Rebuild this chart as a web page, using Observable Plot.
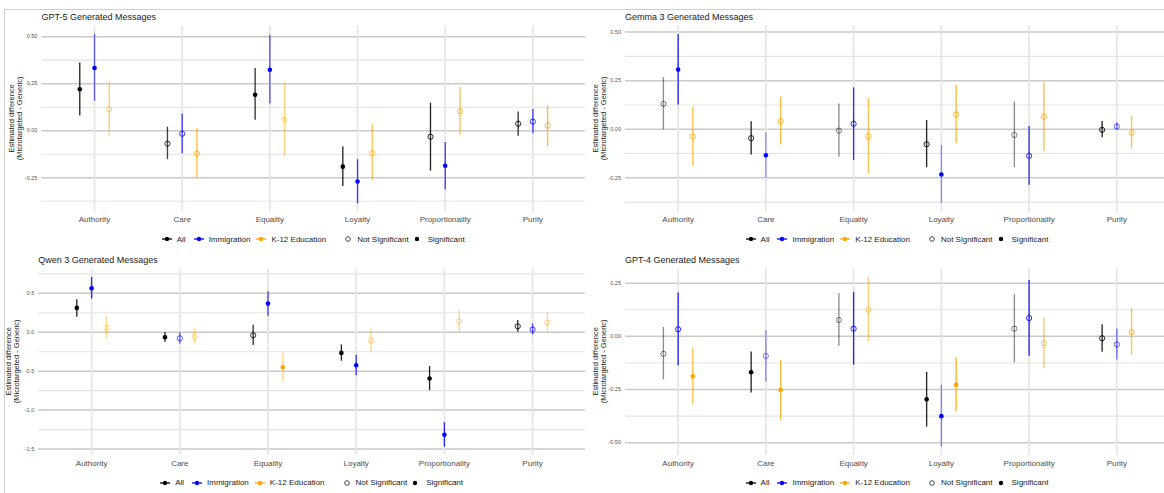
<!DOCTYPE html>
<html><head><meta charset="utf-8">
<script src="https://cdn.jsdelivr.net/npm/d3@7"></script>
<script src="https://cdn.jsdelivr.net/npm/@observablehq/plot@0.6"></script>
<style>
body{margin:0;width:1164px;height:493px;overflow:hidden;background:#fff;font-family:"Liberation Sans",Arial,sans-serif;position:relative}
#frame{position:absolute;left:4px;top:9px;width:1200px;height:520px;border-left:1px solid #cfcfcf;border-top:1px solid #cfcfcf}
.psvg{position:absolute}
.title{position:absolute;font-size:9px;color:#1a1a1a;white-space:nowrap;line-height:12px}
.ytitle{position:absolute;font-size:7.5px;line-height:8.3px;text-align:center;transform:rotate(-90deg);color:#1a1a1a;white-space:nowrap}
.legend{position:absolute;display:flex;align-items:center;justify-content:center;font-size:8px;color:#1a1a1a;height:12px;white-space:nowrap}
.legend svg{display:block}
</style></head>
<body>
<div id="frame"></div>
<script>
const categories = ["Authority","Care","Equality","Loyalty","Proportionality","Purity"];
const groups = ["All","Immigration","K-12 Education"];
const groupColors = ["#000000","#0000ff","#ffa500"];
const sigLabels = ["Not Significant","Significant"];
const yAxisTitle = ["Estimated difference","(Microtargeted - Generic)"];

// order: for each category -> All, Immigration, K-12 Education
const gpt5Est = [0.220,0.333,0.113, -0.069,-0.016,-0.122, 0.191,0.324,0.058, -0.191,-0.270,-0.119, -0.032,-0.186,0.103, 0.037,0.048,0.027];
const gpt5Lo  = [0.078,0.156,-0.030, -0.154,-0.122,-0.255, 0.055,0.142,-0.137, -0.296,-0.388,-0.266, -0.215,-0.314,-0.023, -0.029,-0.016,-0.084];
const gpt5Hi  = [0.360,0.512,0.260, 0.019,0.087,0.011, 0.330,0.507,0.253, -0.087,-0.154,0.032, 0.147,-0.062,0.229, 0.099,0.113,0.133];
const gpt5Sig = [1,1,0, 0,0,0, 1,1,0, 1,1,0, 0,1,0, 0,0,0];
const gpt5Alpha = [0.85,0.6,0.55, 0.75,0.75,0.75, 0.8,0.65,0.5, 0.85,0.75,0.65, 0.85,0.75,0.7, 0.8,0.75,0.75];

const gemmaEst = [0.130,0.307,-0.037, -0.046,-0.134,0.041, -0.007,0.028,-0.037, -0.077,-0.233,0.076, -0.029,-0.137,0.064, -0.003,0.014,-0.017];
const gemmaLo  = [-0.003,0.125,-0.190, -0.132,-0.252,-0.082, -0.144,-0.161,-0.231, -0.198,-0.383,-0.075, -0.198,-0.288,-0.116, -0.044,-0.007,-0.103];
const gemmaHi  = [0.266,0.488,0.113, 0.038,-0.019,0.164, 0.130,0.213,0.158, 0.045,-0.084,0.228, 0.141,0.014,0.241, 0.040,0.034,0.067];
const gemmaSig = [0,1,0, 0,1,0, 0,0,0, 0,1,0, 0,0,0, 0,0,0];
const gemmaAlpha = [0.45,0.85,0.75, 0.85,0.4,0.75, 0.45,0.8,0.7, 0.85,0.4,0.8, 0.45,0.8,0.75, 0.85,0.55,0.7];

const qwenEst = [0.313,0.564,0.056, -0.064,-0.077,-0.055, -0.038,0.368,-0.449, -0.265,-0.423,-0.107, -0.594,-1.316,0.137, 0.077,0.034,0.124];
const qwenLo  = [0.192,0.428,-0.085, -0.128,-0.154,-0.154, -0.171,0.205,-0.632, -0.372,-0.560,-0.260, -0.752,-1.474,-0.004, 0.000,-0.034,0.000];
const qwenHi  = [0.419,0.705,0.201, -0.004,-0.004,0.047, 0.090,0.522,-0.269, -0.162,-0.295,0.043, -0.440,-1.162,0.278, 0.150,0.107,0.248];
const qwenSig = [1,1,0, 1,0,0, 0,1,1, 1,1,0, 1,1,0, 0,0,0];
const qwenAlpha = [0.85,0.85,0.45, 0.85,0.6,0.45, 0.8,0.75,0.45, 0.85,0.8,0.45, 0.85,0.85,0.45, 0.8,0.7,0.45];

const gpt4Est = [-0.082,0.033,-0.188, -0.169,-0.092,-0.252, 0.077,0.036,0.125, -0.296,-0.375,-0.227, 0.036,0.086,-0.033, -0.009,-0.038,0.020];
const gpt4Lo  = [-0.204,-0.138,-0.321, -0.266,-0.215,-0.395, -0.047,-0.136,-0.024, -0.426,-0.520,-0.356, -0.125,-0.094,-0.152, -0.075,-0.111,-0.089];
const gpt4Hi  = [0.042,0.204,-0.056, -0.074,0.028,-0.113, 0.201,0.207,0.277, -0.169,-0.230,-0.100, 0.196,0.263,0.086, 0.055,0.034,0.130];
const gpt4Sig = [0,0,1, 1,0,1, 0,0,0, 1,1,1, 0,0,0, 0,0,0];
const gpt4Alpha = [0.45,0.85,0.75, 0.85,0.45,0.8, 0.45,0.85,0.55, 0.85,0.45,0.85, 0.45,0.85,0.65, 0.85,0.55,0.7];

const gpt5YTicks = [-0.25,0,0.25,0.5], gpt5YMinor = [-0.375,-0.125,0.125,0.375];
const gemmaYTicks = [-0.25,0,0.25,0.5], gemmaYMinor = [-0.375,-0.125,0.125,0.375];
const qwenYTicks = [-1.5,-1,-0.5,0,0.5], qwenYMinor = [-1.25,-0.75,-0.25,0.25,0.75];
const gpt4YTicks = [-0.5,-0.25,0,0.25], gpt4YMinor = [-0.375,-0.125,0.125];

const panels = [
  {title:"GPT-5 Generated Messages", est:gpt5Est, lo:gpt5Lo, hi:gpt5Hi, sig:gpt5Sig, alpha:gpt5Alpha, yDomain:[-0.433,0.557], ticks:gpt5YTicks, minor:gpt5YMinor, dec:2, x0:0, row:0, ml:41.4},
  {title:"Gemma 3 Generated Messages", est:gemmaEst, lo:gemmaLo, hi:gemmaHi, sig:gemmaSig, alpha:gemmaAlpha, yDomain:[-0.427,0.532], ticks:gemmaYTicks, minor:gemmaYMinor, dec:2, x0:584, row:0, ml:41},
  {title:"Qwen 3 Generated Messages", est:qwenEst, lo:qwenLo, hi:qwenHi, sig:qwenSig, alpha:qwenAlpha, yDomain:[-1.583,0.814], ticks:qwenYTicks, minor:qwenYMinor, dec:1, x0:0, row:1, ml:38.2},
  {title:"GPT-4 Generated Messages", est:gpt4Est, lo:gpt4Lo, hi:gpt4Hi, sig:gpt4Sig, alpha:gpt4Alpha, yDomain:[-0.56,0.317], ticks:gpt4YTicks, minor:gpt4YMinor, dec:2, x0:584, row:1, ml:41}
];

const rowsLayout = [
  {svgTop:20, frameTop:25.4, frameBottom:211.7, titleY:17, legendY:239},
  {svgTop:262, frameTop:268.4, frameBottom:455, titleY:260, legendY:482.7}
];
const SVG_W = 590, SVG_H = 230, FRAME_RIGHT = 585, DODGE = 0.168;

const fmt = (dec) => v => (v < 0 ? "-" : "") + Math.abs(v).toFixed(dec);

function addDiv(cls, css, html) {
  const d = document.createElement("div");
  d.className = cls;
  Object.assign(d.style, css);
  if (html !== undefined) d.innerHTML = html;
  document.body.appendChild(d);
  return d;
}

const overlays = [];
panels.forEach(p => {
  const L = rowsLayout[p.row];
  const data = p.est.map((e, i) => {
    const ci = Math.floor(i / 3), gi = i % 3;
    return {x: ci + 1 + (gi - 1) * DODGE, est: e, lo: p.lo[i], hi: p.hi[i],
            sig: p.sig[i] === 1, alpha: p.alpha[i], color: groupColors[gi]};
  });
  const catIdx = categories.map((c, i) => i + 1);
  const chart = Plot.plot({
    width: SVG_W, height: SVG_H,
    marginLeft: p.ml, marginRight: SVG_W - FRAME_RIGHT,
    marginTop: L.frameTop - L.svgTop,
    marginBottom: SVG_H - (L.frameBottom - L.svgTop),
    x: {domain: [0.4, 6.6], axis: null},
    y: {domain: p.yDomain, axis: null},
    color: {type: "identity"},
    opacity: {type: "identity"},
    style: {background: "transparent", fontFamily: "'Liberation Sans', Arial, sans-serif", overflow: "visible"},
    marks: [
      Plot.ruleY(p.minor, {stroke: "#e3e3e3", strokeWidth: 1.1}),
      Plot.ruleY(p.ticks, {stroke: "#c9c9c9", strokeWidth: 1.5}),
      Plot.ruleX(catIdx, {stroke: "#e6e6e6", strokeWidth: 1.8}),
      Plot.axisY({ticks: p.ticks, tickFormat: fmt(p.dec), tickSize: 0, tickPadding: 4.5, fontSize: 5.5, fill: "#555", label: null}),
      Plot.axisX({ticks: catIdx, tickFormat: i => categories[i - 1], tickSize: 0, tickPadding: 4.5, fontSize: 8, fill: "#4d4d4d", label: null}),
      Plot.ruleX(data, {x: "x", y1: "lo", y2: "hi", stroke: "color", strokeOpacity: "alpha", strokeWidth: 1.35}),
      Plot.dot(data.filter(d => d.sig), {x: "x", y: "est", fill: "color", r: 2.3}),
      Plot.dot(data.filter(d => !d.sig), {x: "x", y: "est", stroke: "color", strokeOpacity: d => Math.min(1, d.alpha + 0.1), fill: "none", r: 2.6, strokeWidth: 0.9})
    ]
  });
  chart.classList.add("psvg");
  chart.style.left = p.x0 + "px";
  chart.style.top = L.svgTop + "px";
  document.body.appendChild(chart);
  overlays.push({p, L});
});

overlays.forEach(({p, L}) => {
  const frameLeft = p.x0 + p.ml;
  const frameRight = p.x0 + FRAME_RIGHT;
  addDiv("title", {left: frameLeft + "px", top: (L.titleY - 6) + "px"}, p.title);
  const h = L.frameBottom - L.frameTop;
  const cx = frameLeft - 25, cy = (L.frameTop + L.frameBottom) / 2;
  addDiv("ytitle", {left: (cx - h / 2) + "px", top: (cy - 8.3) + "px", width: h + "px", height: "16.6px"},
    yAxisTitle.join("<br>"));
  const c = (frameLeft + frameRight) / 2;
  const gapAfter = [8, 6, 17];
  let html = "";
  groups.forEach((g, i) => {
    html += `<svg width="10" height="8"><line x1="0" x2="10" y1="4" y2="4" stroke="${groupColors[i]}" stroke-width="1.3"/><circle cx="5" cy="4" r="2.2" fill="${groupColors[i]}"/></svg><span style="margin-left:5px;margin-right:${gapAfter[i]}px">${g}</span>`;
  });
  html += `<svg width="10" height="8"><circle cx="5" cy="4" r="2.3" fill="none" stroke="#333" stroke-width="0.9"/></svg><span style="margin-left:4px;margin-right:3px">${sigLabels[0]}</span>`;
  html += `<svg width="10" height="8"><circle cx="5" cy="4" r="2.2" fill="#000"/></svg><span style="margin-left:6px">${sigLabels[1]}</span>`;
  addDiv("legend", {left: (c - 300) + "px", width: "600px", top: (L.legendY - 6) + "px"}, html);
});
</script>
</body></html>
